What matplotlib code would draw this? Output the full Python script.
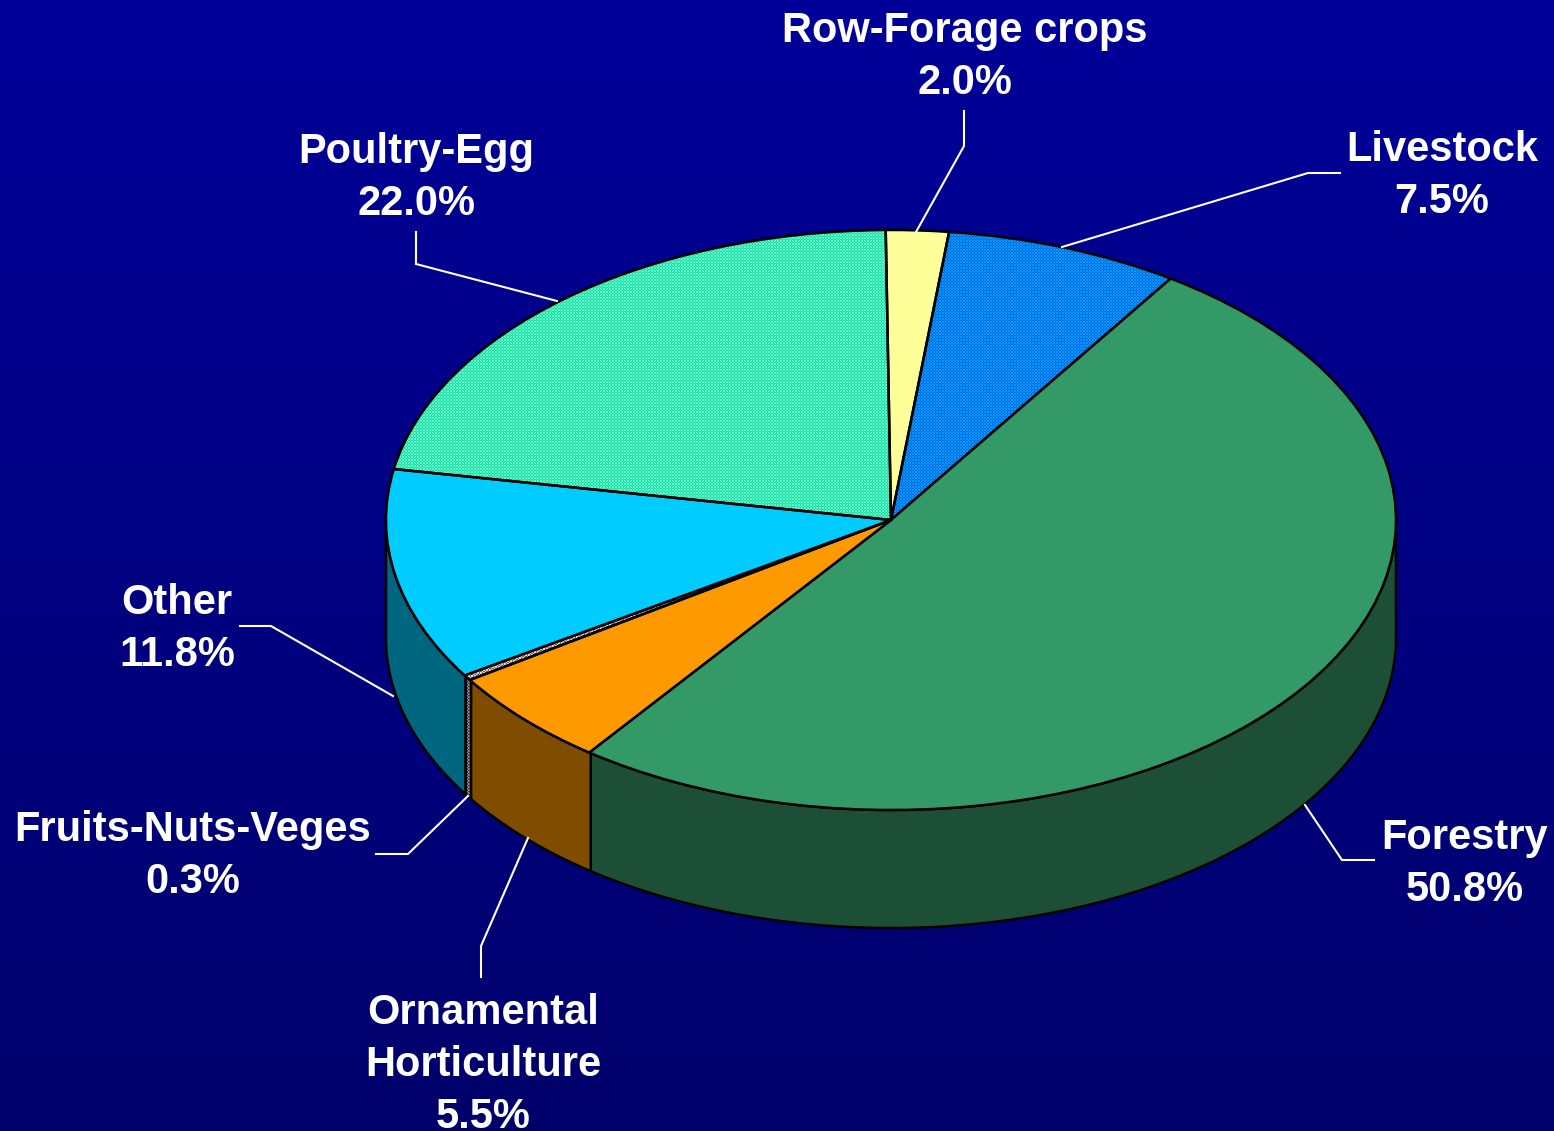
import numpy as np
import matplotlib
matplotlib.use('Agg')
import matplotlib.pyplot as plt
from matplotlib.colors import to_rgb
from matplotlib.patches import Polygon

names = ['Row-Forage crops', 'Livestock', 'Forestry', 'Ornamental\nHorticulture',
         'Fruits-Nuts-Veges', 'Other', 'Poultry-Egg']
shares = [2.0, 7.5, 50.8, 5.5, 0.3, 11.8, 22.0]
top_colors = ['#ffff99', '#0a8cff', '#339966', '#ff9900', '#c8b0b0', '#00ccff', '#3df2bd']
side_colors = ['#80804d', '#05468a', '#1c4f35', '#804d00', '#806870', '#006680', '#1f7a60']
# two-colour fill patterns, by slice index
top_patterns = {1: ('#0099ff', '#0068dc'), 4: ('#e6d0d0', '#806060'), 6: ('#5cf8c8', '#1fd9a6')}
side_patterns = {4: ('#a08888', '#403038')}

W, H = 1554, 1131
CX, CY, RX, RY = 891, 520, 505, 290
DEPTH = 118
START = -0.6

plt.rcParams['font.family'] = ['Liberation Sans', 'DejaVu Sans']


def px(x, y):
    # reference pixels to pie units (radius 1 on both axes)
    return (x - CX) / RX, (CY - y) / RY


def texture(c0, c1):
    tile = np.array([[0, 0, 1], [0, 0, 1], [1, 1, 0]])
    mask = np.tile(tile, (H // 3 + 1, W // 3 + 1))[:H, :W]
    a, b = np.array(to_rgb(c0)), np.array(to_rgb(c1))
    return np.where(mask[..., None] == 0, a, b)


fig = plt.figure(figsize=(W / 100, H / 100), dpi=100)
ax = fig.add_axes([0, 0, 1, 1])
x0, y0 = px(0, H)
x1, y1 = px(W, 0)
extent = [x0, x1, y0, y1]

# background gradient
bg = np.zeros((256, 1, 3))
bg[:, 0, 2] = np.linspace(0x99, 0x6b, 256) / 255
ax.imshow(bg, extent=extent, aspect='auto', zorder=0)

# side walls, only the front half of the rim shows
depth = DEPTH / RY
edges = START + np.cumsum([0] + shares) * 3.6
for i in range(len(shares)):
    a0 = max(edges[i], 90)
    a1 = min(edges[i + 1], 270)
    if a1 <= a0:
        continue
    t = np.radians(np.linspace(a0, a1, 200))
    xs = np.sin(t)
    ys = np.cos(t)
    pts = np.r_[np.c_[xs, ys], np.c_[xs[::-1], ys[::-1] - depth]]
    wall = Polygon(pts, closed=True, facecolor=side_colors[i],
                   edgecolor='black', linewidth=1.8, zorder=1)
    ax.add_patch(wall)
    if i in side_patterns:
        wall.set_facecolor('none')
        wall.set_zorder(1.2)
        im = ax.imshow(texture(*side_patterns[i]), extent=extent, aspect='auto',
                       interpolation='nearest', zorder=1.1)
        im.set_clip_path(wall)

wedges, _ = ax.pie(shares, colors=top_colors, startangle=90 - START, counterclock=False,
                   radius=1, center=(0, 0),
                   wedgeprops={'edgecolor': 'black', 'linewidth': 1.8, 'zorder': 2.5})
for i, (c0, c1) in top_patterns.items():
    wedges[i].set_facecolor('none')
    im = ax.imshow(texture(c0, c1), extent=extent, aspect='auto',
                   interpolation='nearest', zorder=2)
    im.set_clip_path(wedges[i])
ax.set_aspect('auto')
ax.set_xlim(x0, x1)
ax.set_ylim(y0, y1)
ax.axis('off')

# leader lines
leaders = [
    [(964, 111), (964, 146), (916, 232)],
    [(1340, 173), (1308, 173), (1062, 247)],
    [(1374, 860), (1342, 860), (1305, 805)],
    [(481, 977), (481, 946), (528, 838)],
    [(376, 854), (408, 854), (468, 796)],
    [(240, 626), (271, 626), (393, 696)],
    [(416, 232), (416, 264), (557, 301)],
]
for pts in leaders:
    p = np.array([px(*q) for q in pts])
    ax.plot(p[:, 0], p[:, 1], color='white', linewidth=1.5, zorder=3, solid_joinstyle='miter')

# labels
label_pos = [(965, 57), (1442, 176), (1465, 864), (483, 1065), (193, 856), (177, 629), (416, 178)]
for name, share, (lx, ly) in zip(names, shares, label_pos):
    tx, ty = px(lx, ly)
    ax.text(tx, ty, f'{name}\n{share:.1f}%', color='white', fontsize=30, fontweight='bold',
            ha='center', va='center', linespacing=1.38, zorder=4, clip_on=False)

fig.savefig('out.png', dpi=100)
